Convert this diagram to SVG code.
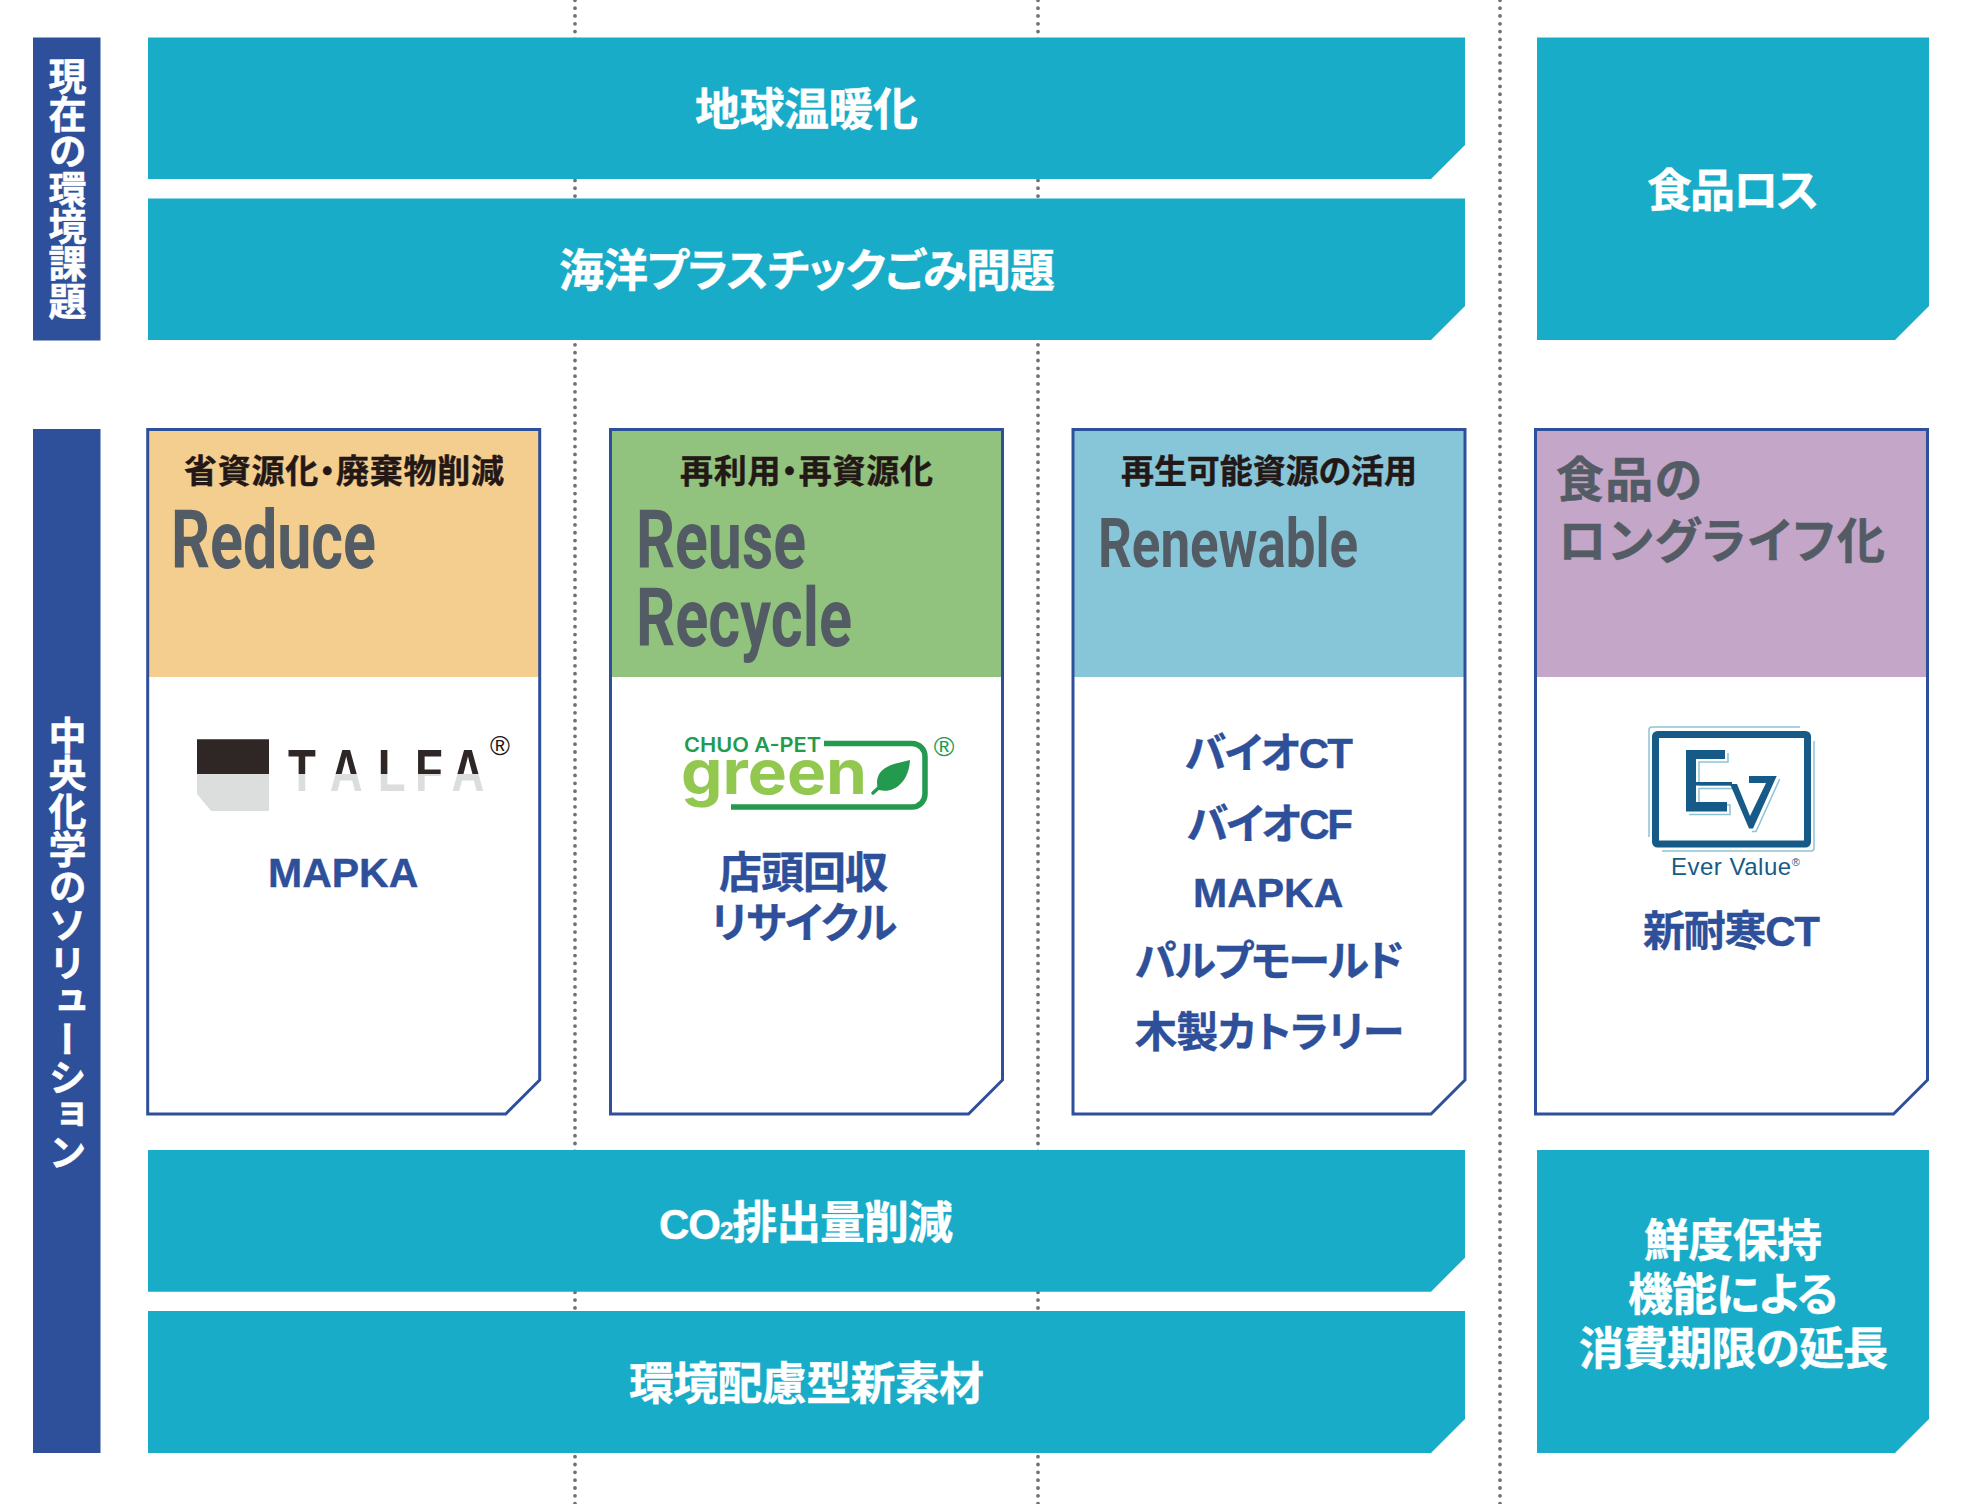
<svg xmlns="http://www.w3.org/2000/svg" width="1962" height="1504" viewBox="0 0 1962 1504">
<style>
text{font-family:"Liberation Sans","Noto Sans CJK JP",sans-serif;font-weight:700;font-feature-settings:"palt"}
.teal{fill:#19acc9}
.navy{fill:#2e4f99}
.w{fill:#fff;font-size:45px;stroke:#fff;stroke-width:.4}
.v{fill:#fff;font-size:38px;writing-mode:vertical-rl;text-orientation:upright;font-feature-settings:normal;stroke:#fff;stroke-width:.5}
.card{fill:none;stroke:#2e4f99;stroke-width:3}
.sub{fill:#231815;font-size:33px;stroke:#231815;stroke-width:.4}
.en{fill:#535c64;font-family:Roboto,"Liberation Sans",sans-serif;font-size:82px}
.jp{fill:#535c64;font-size:48px;stroke:#535c64;stroke-width:.5}
.b{fill:#2e4f99;font-size:42px;stroke:#2e4f99;stroke-width:.4}
.dots{fill:none;stroke:#727171;stroke-width:3.8;stroke-linecap:round;stroke-dasharray:0 7.83}
.reg{font-weight:400}
</style>
<defs>
<clipPath id="talfaTop"><rect x="280" y="730" width="212" height="44"/></clipPath>
<clipPath id="talfaLow"><rect x="280" y="774" width="212" height="30"/></clipPath>
<text id="talfaWord" transform="translate(0,791) scale(.76,1)" font-size="60" x="379 434 497 546 594" y="0">TALFA</text>
</defs>

<g id="connectors">
<path class="dots" d="M575 .3V1504M1038 .3V1504M1500 .3V1504"/>
</g>

<g id="label-issues"><rect class="navy" x="33" y="37.5" width="67.5" height="303"/>
<text class="v" x="64" y="57" letter-spacing="-.6">現在の環境課題</text></g>
<g id="issue-warming"><path class="teal" d="M148 37.5H1465V145L1431 179H148Z"/>
<text class="w" x="695" y="125.7" textLength="223">地球温暖化</text></g>
<g id="issue-plastic"><path class="teal" d="M148 198.5H1465V306L1431 340H148Z"/>
<text class="w" x="559" y="286.7" textLength="496">海洋プラスチックごみ問題</text></g>
<g id="issue-foodloss"><path class="teal" d="M1537 37.5H1929V306L1895 340H1537Z"/>
<text class="w" x="1647" y="206.7" textLength="172">食品ロス</text></g>

<g id="label-solutions"><rect class="navy" x="33" y="429" width="67.5" height="1024"/>
<text class="v" x="64" y="716" letter-spacing="-.1">中央化学のソリューション</text></g>

<g id="card-reduce">
<path fill="#fff" d="M147.700 429.500H539.700V1080L505.700 1114H147.700Z"/>
<rect fill="#f3ce8f" x="147.700" y="430" width="392" height="247"/>
<path class="card" d="M147.700 429.500H539.700V1080L505.700 1114H147.700Z"/>
<text class="sub" x="184" y="483" textLength="320">省資源化・廃棄物削減</text>
<text class="en" x="171" y="568" textLength="205" lengthAdjust="spacingAndGlyphs">Reduce</text>
<g id="logo-talfa">
<path fill="#2e2725" d="M197 739.300H269V774H197Z"/>
<path fill="#dcdddd" d="M197 774H269V811H211L197 794Z"/>
<use href="#talfaWord" fill="#2e2725" clip-path="url(#talfaTop)"/>
<use href="#talfaWord" fill="#dcdddd" clip-path="url(#talfaLow)"/>
<text class="reg" x="500" y="755" font-size="27" text-anchor="middle" fill="#231815">®</text>
</g>
<text class="b" x="268" y="887" style="font-size:41px">MAPKA</text>
</g>

<g id="card-reuse">
<path fill="#fff" d="M610.500 429.500H1002.500V1080L968.500 1114H610.500Z"/>
<rect fill="#91c37e" x="610.500" y="430" width="392" height="247"/>
<path class="card" d="M610.500 429.500H1002.500V1080L968.500 1114H610.500Z"/>
<text class="sub" x="680" y="483" textLength="253">再利用・再資源化</text>
<text class="en" x="636" y="568" textLength="170" lengthAdjust="spacingAndGlyphs">Reuse</text>
<text class="en" x="636" y="646" textLength="216" lengthAdjust="spacingAndGlyphs">Recycle</text>
<g id="logo-green">
<text x="684" y="752" font-size="20" style="font-family:Inter,sans-serif;font-weight:600" fill="#239a4e" textLength="137" lengthAdjust="spacingAndGlyphs">CHUO A-PET</text>
<text style="font-family:Inter,sans-serif;font-weight:700" x="681" y="794" font-size="62" fill="#92c84f" textLength="186" lengthAdjust="spacingAndGlyphs">green</text>
<path fill="none" stroke="#239a4e" stroke-width="5.500" d="M824 743.500H912a13 13 0 0 1 13 13V794a13 13 0 0 1-13 13H731"/>
<path fill="#239a4e" d="M910 760C894 764 878 766 877 782C877 786 878 789 879 790C894 794 909 782 910 760Z"/>
<path fill="none" stroke="#239a4e" stroke-width="3.500" stroke-linecap="round" d="M873 793L886 781"/>
<text class="reg" x="944" y="756" font-size="28" text-anchor="middle" fill="#239a4e">®</text>
</g>
<text class="b" x="719" y="888" style="font-size:43px" textLength="169">店頭回収</text>
<text class="b" x="711" y="938" textLength="186">リサイクル</text>
</g>

<g id="card-renewable">
<path fill="#fff" d="M1073 429.500H1465V1080L1431 1114H1073Z"/>
<rect fill="#87c6d9" x="1073" y="430" width="392" height="247"/>
<path class="card" d="M1073 429.500H1465V1080L1431 1114H1073Z"/>
<text class="sub" x="1121" y="483" textLength="296">再生可能資源の活用</text>
<text class="en" x="1098" y="567" style="font-size:69px" textLength="260" lengthAdjust="spacingAndGlyphs">Renewable</text>
<text class="b" x="1185" y="768" textLength="168">バイオCT</text>
<text class="b" x="1187" y="839" textLength="166">バイオCF</text>
<text class="b" x="1193" y="907" style="font-size:41px">MAPKA</text>
<text class="b" x="1135" y="976" textLength="269">パルプモールド</text>
<text class="b" x="1135" y="1047" textLength="269">木製カトラリー</text>
</g>

<g id="card-longlife">
<path fill="#fff" d="M1535.500 429.500H1927.500V1080L1893.500 1114H1535.500Z"/>
<rect fill="#c3a6c8" x="1535.500" y="430" width="392" height="247"/>
<path class="card" d="M1535.500 429.500H1927.500V1080L1893.500 1114H1535.500Z"/>
<text class="jp" x="1556" y="497" textLength="146">食品の</text>
<text class="jp" x="1558" y="558" textLength="327">ロングライフ化</text>
<g id="logo-ev">
<path fill="none" stroke="#8cc3d6" stroke-width="1.500" d="M1800 727H1652a3 3 0 0 0-3 3V837M1814 741V848a3 3 0 0 1-3 3H1662"/>
<rect x="1655.500" y="734.500" width="152" height="109.500" rx="2" fill="none" stroke="#165a87" stroke-width="7"/>
<g fill="none" stroke="#8cc3d6" stroke-width="1.500" transform="translate(3 3)">
<path d="M1725 750V759H1696V782H1732V785.500H1696V802H1727V811.400H1686"/>
<path d="M1776.700 776L1753 828.600H1749"/>
</g>
<path fill="#165a87" d="M1686 750H1725V759H1696V782H1732V785.500H1696V802H1727V811.400H1686Z"/>
<path fill="#165a87" d="M1730 784H1737L1750 816L1766 783H1749V776H1776.700L1753 828.600H1749Z"/>
<text class="reg" x="1671" y="875" font-size="24" fill="#165a87" letter-spacing=".5">Ever Value<tspan font-size="11" dy="-9">®</tspan></text>
</g>
<text class="b" x="1643" y="946" textLength="177">新耐寒CT</text>
</g>

<g id="effect-co2"><path class="teal" d="M148 1150H1465V1257.700L1431 1291.700H148Z"/>
<text class="w" x="659" y="1238.700" textLength="294"><tspan font-size="42">CO</tspan><tspan font-size="24">2</tspan>排出量削減</text></g>
<g id="effect-material"><path class="teal" d="M148 1311H1465V1419L1431 1453H148Z"/>
<text class="w" x="629" y="1399.700" textLength="355">環境配慮型新素材</text></g>
<g id="effect-freshness"><path class="teal" d="M1537 1150H1929V1419L1895 1453H1537Z"/>
<text class="w" x="1644" y="1256.700" textLength="178">鮮度保持</text>
<text class="w" x="1628" y="1310.700" textLength="210">機能による</text>
<text class="w" x="1579" y="1364.700" textLength="309">消費期限の延長</text></g>
</svg>
